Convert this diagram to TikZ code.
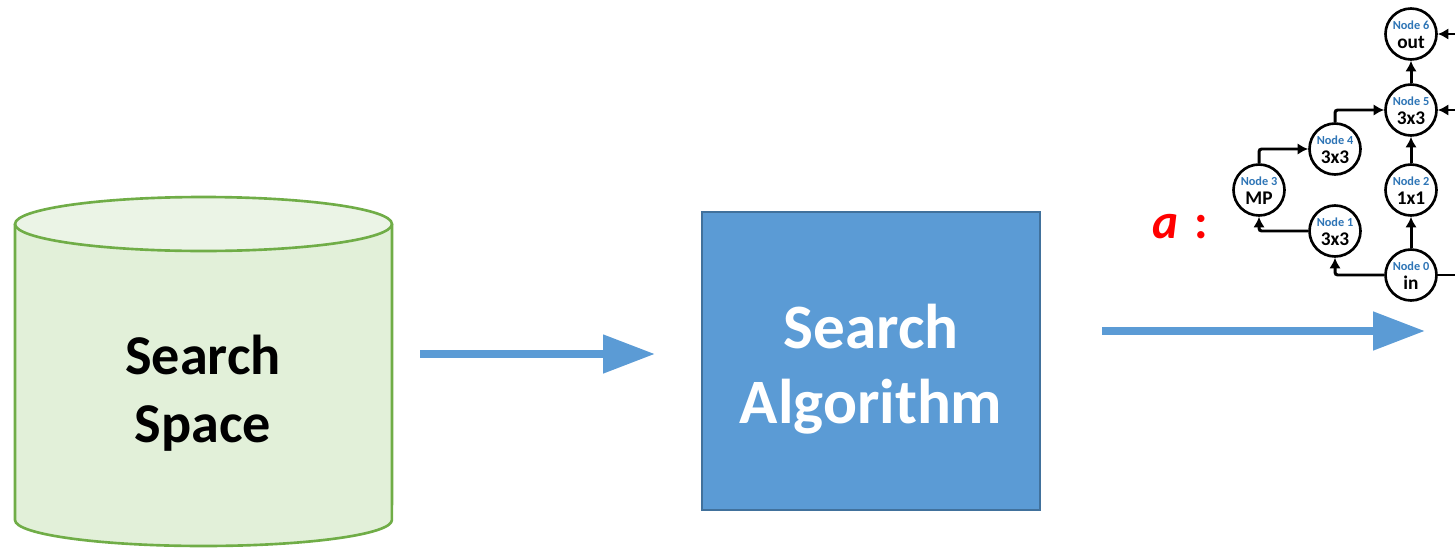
\documentclass[tikz,border=0pt]{standalone}
\usepackage{fontspec}
\setmainfont{Carlito}
\usetikzlibrary{arrows.meta}
\definecolor{spacefill}{HTML}{E2F0D9}
\definecolor{spacetop}{HTML}{EBF4E6}
\definecolor{spaceline}{HTML}{70AD47}
\definecolor{algofill}{HTML}{5B9BD5}
\definecolor{algoline}{HTML}{41719C}
\definecolor{flowblue}{HTML}{5B9BD5}
\definecolor{tagblue}{HTML}{2E75B6}

% one cell operation: circle, blue index tag, operation name
\newcommand\cellnode[5]{%
  \node[gnode] (#1) at (#2,#3) {};
  \node[gtag] (#1tag) at ([yshift=0.18cm]#1.center) {Node #4};
  \node[gop] (#1op) at ([yshift=-0.16cm]#1.center) {#5};
}

\begin{document}
\begin{tikzpicture}[x=0.02cm,y=-0.02cm,
  flow/.style={line width=0.16cm, flowblue, -{Triangle[length=1.04cm,width=0.74cm]}},
  gnode/.style={circle, draw, line width=1.5pt, minimum size=1.02cm, inner sep=0pt, fill=white},
  gtag/.style={text=tagblue, font=\bfseries\fontsize{7}{8}\selectfont, inner sep=0pt},
  gop/.style={font=\bfseries\fontsize{11}{12}\selectfont, inner sep=0pt},
  gedge/.style={line width=1.7pt, rounded corners=1.5pt, -{Latex[length=6pt,width=6.5pt]}},
  gline/.style={line width=1.7pt},
]
\useasboundingbox (0,0) rectangle (1455,548);
\clip (0,0) rectangle (1455,548);

% search space cylinder
\fill[spacefill] (15,224) -- (15,520)
  arc[start angle=180,end angle=360,x radius=3.77cm,y radius=0.52cm] -- (392,224) -- cycle;
\draw[spaceline, line width=1.5pt] (15,224) -- (15,520)
  arc[start angle=180,end angle=360,x radius=3.77cm,y radius=0.52cm] -- (392,224);
\draw[spaceline, fill=spacetop, line width=1.5pt] (203.5,224) ellipse [x radius=3.77cm, y radius=0.54cm];
\node[minimum width=7.54cm, minimum height=6.44cm] (space) at (203.5,385) {};
\node[font=\bfseries\fontsize{32}{38.5}\selectfont, align=center] (spacetext) at (203,393) {Search\\Space};

% search algorithm box
\node[draw=algoline, fill=algofill, line width=1.1pt, minimum width=6.76cm, minimum height=5.96cm] (algo) at (871,361) {};
\node[text=white, font=\bfseries\fontsize{36}{43}\selectfont, align=center] (algotext) at (871,369) {Search\\Algorithm};

% flow arrows
\coordinate (f1s) at (420,354);
\coordinate (f1e) at (655,354);
\draw[flow] (f1s) -- (f1e);
\coordinate (f2s) at (1102,331);
\coordinate (f2e) at (1425,331);
\draw[flow] (f2s) -- (f2e);

% architecture label
\node[text=red, font=\bfseries\itshape\fontsize{28}{30}\selectfont, anchor=base, inner sep=0pt] (alabel) at (1165,238) {a};
\node[text=red, font=\bfseries\fontsize{28}{30}\selectfont, anchor=base, inner sep=0pt] (acolon) at (1201,238) {:};

% cell graph
\cellnode{n6}{1411}{34}{6}{out}
\cellnode{n5}{1411}{110}{5}{3x3}
\cellnode{n4}{1335}{149}{4}{3x3}
\cellnode{n3}{1259}{190}{3}{MP}
\cellnode{n2}{1411}{190}{2}{1x1}
\cellnode{n1}{1335}{231}{1}{3x3}
\cellnode{n0}{1411}{275}{0}{in}

\draw[gedge] (n0.north) -- (n2.south);
\draw[gedge] (n2.north) -- (n5.south);
\draw[gedge] (n5.north) -- (n6.south);
\draw[gedge] (n0.west) -| (n1.south);
\draw[gedge] (n1.west) -| (n3.south);
\draw[gedge] (n3.north) |- (n4.west);
\draw[gedge] (n4.north) |- (n5.west);
\coordinate (e6) at (1475,34);
\coordinate (e5) at (1475,110);
\coordinate (e0) at (1475,275);
\draw[gedge] (e6) -- (n6.east);
\draw[gedge] (e5) -- (n5.east);
\draw[gline] (n0.east) -- (e0);
\end{tikzpicture}
\end{document}
